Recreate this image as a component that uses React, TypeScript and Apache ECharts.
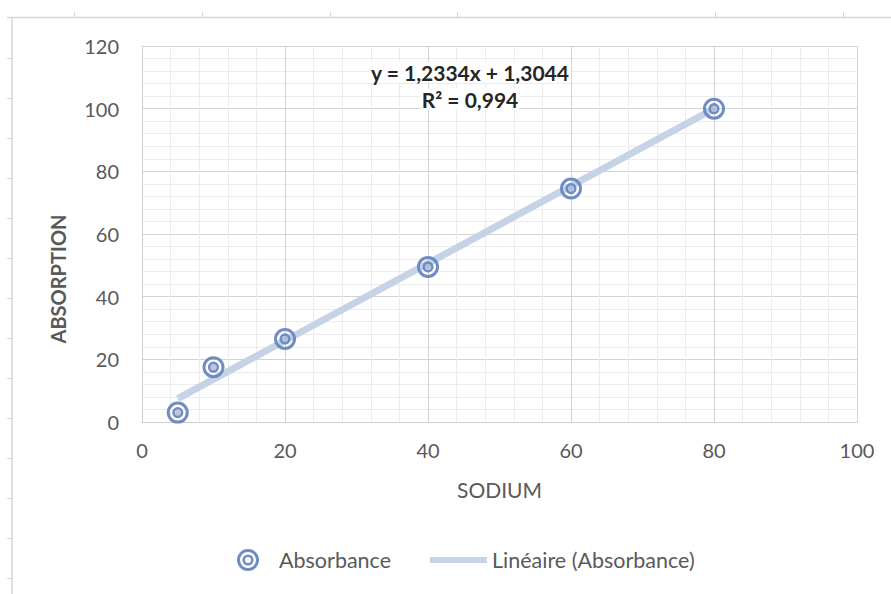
import React, { useEffect, useRef } from "react";
import * as echarts from "echarts";

// ---- data ----
const sodium = [5, 10, 20, 40, 60, 80];
const absorption = [3, 17.5, 26.5, 49.5, 74.5, 100];
const trendCoef = [1.2334, 1.3044]; // slope, intercept (Excel trendline)
const trendRange = [5, 80];
const equationLines = ["y = 1,2334x + 1,3044", "R² = 0,994"];
const xTicks = [0, 20, 40, 60, 80, 100];
const yTicks = [0, 20, 40, 60, 80, 100, 120];

const FONT = "Lato, 'Open Sans', sans-serif";
const TEXT = "#595959";
const MARK = "#6787c0";

function circle(cx: number, cy: number, r: number, cw: boolean) {
  const s = cw ? 1 : 0;
  return `M${cx - r} ${cy} A${r} ${r} 0 1 ${s} ${cx + r} ${cy} A${r} ${r} 0 1 ${s} ${cx - r} ${cy} Z `;
}
const markerPath =
  "path://" +
  circle(11, 11, 11, true) +
  circle(11, 11, 8, false) +
  circle(11, 11, 5.6, true) +
  circle(11, 11, 3, false);

export default function App() {
  const ref = useRef<HTMLDivElement>(null);
  useEffect(() => {
    if (!ref.current) return;
    const chart = echarts.init(ref.current, undefined, { renderer: "svg" });
    const points = sodium.map((x, i) => [x, absorption[i]]);
    const trend = trendRange.map((x) => [x, trendCoef[0] * x + trendCoef[1]]);

    const frame: any[] = [];
    const frameColor = "#d6d6d6";
    frame.push({ type: "line", shape: { x1: 7, y1: 17.5, x2: 891, y2: 17.5 }, style: { stroke: frameColor, lineWidth: 1.5 }, silent: true });
    frame.push({ type: "line", shape: { x1: 12, y1: 17, x2: 12, y2: 594 }, style: { stroke: frameColor, lineWidth: 1.5 }, silent: true });
    [74, 202, 330, 457, 715, 843].forEach((x) =>
      frame.push({ type: "line", shape: { x1: x + 0.5, y1: 12, x2: x + 0.5, y2: 17 }, style: { stroke: frameColor, lineWidth: 1 }, silent: true })
    );
    for (let y = 58; y < 594; y += 40) {
      frame.push({ type: "line", shape: { x1: 7, y1: y + 0.5, x2: 12, y2: y + 0.5 }, style: { stroke: frameColor, lineWidth: 1 }, silent: true });
    }

    const eqStyle = (text: string) => ({
      text,
      fill: "#262626",
      font: `bold 21px ${FONT}`,
      align: "center",
      verticalAlign: "middle",
      backgroundColor: "#ffffff",
      padding: [0, 1],
    });

    chart.setOption({
      animation: false,
      textStyle: { fontFamily: FONT },
      grid: { left: 142, right: 34, top: 46, bottom: 172, containLabel: false },
      xAxis: {
        type: "value",
        min: xTicks[0],
        max: xTicks[xTicks.length - 1],
        interval: xTicks[1] - xTicks[0],
        name: "SODIUM",
        nameLocation: "middle",
        nameGap: 57,
        nameTextStyle: { color: TEXT, fontSize: 21, fontFamily: FONT },
        axisLine: { show: true, lineStyle: { color: "#d0d0d0" } },
        axisTick: { show: false },
        axisLabel: { color: TEXT, fontSize: 20, margin: 18, fontFamily: FONT },
        splitLine: { show: true, lineStyle: { color: "#d3d3d3", width: 1 } },
        minorTick: { show: false, splitNumber: 5 },
        minorSplitLine: { show: true, lineStyle: { color: "#ececec", width: 1 } },
      },
      yAxis: {
        type: "value",
        min: yTicks[0],
        max: yTicks[yTicks.length - 1],
        interval: yTicks[1] - yTicks[0],
        name: "ABSORPTION",
        nameLocation: "middle",
        nameGap: 74,
        nameRotate: 90,
        nameTextStyle: {
          color: TEXT,
          fontSize: 20,
          fontWeight: "bold",
          fontFamily: FONT,
          padding: [0, 90, 0, 0],
        },
        axisLine: { show: true, lineStyle: { color: "#d0d0d0" } },
        axisTick: { show: false },
        axisLabel: { color: TEXT, fontSize: 20, margin: 23, fontFamily: FONT },
        splitLine: { show: true, lineStyle: { color: "#d3d3d3", width: 1 } },
        minorTick: { show: false, splitNumber: 5 },
        minorSplitLine: { show: true, lineStyle: { color: "#ececec", width: 1 } },
      },
      legend: [
        {
          left: 232,
          top: 544,
          itemWidth: 22,
          itemHeight: 22,
          data: [{ name: "Absorbance", icon: markerPath }],
          textStyle: { color: TEXT, fontSize: 21.5, fontFamily: FONT, padding: [0, 0, 0, 15] },
          selectedMode: false,
        },
        {
          left: 425,
          top: 544,
          itemWidth: 57,
          itemHeight: 6,
          itemGap: 0,
          data: [{ name: "Linéaire (Absorbance)", icon: "rect" }],
          textStyle: { color: TEXT, fontSize: 21.5, fontFamily: FONT },
          selectedMode: false,
        },
      ],
      series: [
        {
          name: "Linéaire (Absorbance)",
          type: "line",
          data: trend,
          showSymbol: false,
          symbol: "none",
          color: "#c6d3e6",
          lineStyle: { width: 7, color: "#c6d3e6", cap: "butt" },
          z: 2,
          silent: true,
        },
        {
          name: "Absorbance",
          type: "scatter",
          data: points,
          symbol: markerPath,
          symbolSize: 22,
          color: MARK,
          itemStyle: { color: MARK, opacity: 0.95 },
          z: 3,
        },
        {
          name: "centre",
          type: "scatter",
          data: points,
          symbol: "circle",
          symbolSize: 6,
          itemStyle: { color: "#a7b8d6" },
          z: 4,
          silent: true,
        },
      ],
      graphic: [
        ...frame,
        { type: "text", x: 470, y: 72, z: 100, style: eqStyle(equationLines[0]) },
        { type: "text", x: 470, y: 99, z: 100, style: eqStyle(equationLines[1]) },
      ],
    });
    return () => chart.dispose();
  }, []);
  return <div ref={ref} style={{ width: 891, height: 594, position: "absolute", left: 0, top: 0, background: "#fff" }} />;
}
